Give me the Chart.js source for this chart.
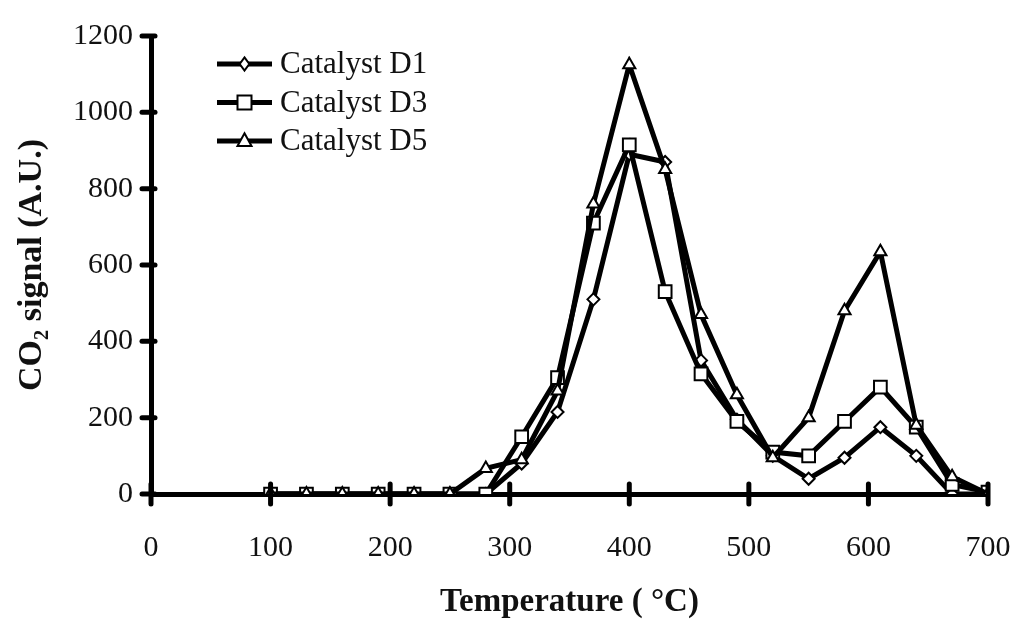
<!DOCTYPE html>
<html lang="en">
<head>
<meta charset="UTF-8">
<title>CO2 signal vs temperature</title>
<script src="https://cdn.jsdelivr.net/npm/chart.js@4.4.1/dist/chart.umd.min.js"></script>
<style>
  body{margin:0;background:#fff;}
  #wrap{width:1011px;height:626px;position:relative;}
</style>
</head>
<body>
<div id="wrap"><canvas id="myChart"></canvas></div>
<script>
// temperatures (deg C) and CO2 signal
var temps = [100,130,160,190,220,250,280,310,340,370,400,430,460,490,520,550,580,610,640,670,700];
var d1 = [0,0,0,0,0,0,0,80,215,510,890,870,350,195,100,40,95,175,100,0,0];
var d3 = [0,0,0,0,0,0,0,150,305,710,915,530,315,190,110,100,190,280,175,25,5];
var d5 = [0,0,0,0,0,0,67,90,270,760,1125,850,470,260,95,200,480,635,180,45,0];
var seriesNames = ["Catalyst D1","Catalyst D3","Catalyst D5"];
var xTicks = [0,100,200,300,400,500,600,700];
var yTicks = [0,200,400,600,800,1000,1200];

var serif = "'Liberation Serif','Times New Roman',serif";

function pts(arr){
    return temps.map(function(t,i){ return {x:t,y:arr[i]}; });
}

function marker(ctx, style, x, y, r){
    ctx.beginPath();
    if(style=="rect"){
        ctx.rect(x-r, y-r, 2*r, 2*r);
    } else if(style=="rectRot"){
        ctx.moveTo(x, y-r*1.1); ctx.lineTo(x+r*0.8, y); ctx.lineTo(x, y+r*1.1); ctx.lineTo(x-r*0.8, y); ctx.closePath();
    } else {
        ctx.moveTo(x, y-r*1.1); ctx.lineTo(x+r, y+r*0.7); ctx.lineTo(x-r, y+r*0.7); ctx.closePath();
    }
    ctx.fillStyle="#fff"; ctx.fill();
    ctx.lineWidth=2; ctx.strokeStyle="#000"; ctx.stroke();
}

// ticks that cross the axis lines
var crossTicks = {
    id:'crossTicks',
    afterDatasetsDraw(chart){
        var ctx=chart.ctx, xs=chart.scales.x, ys=chart.scales.y, a=chart.chartArea;
        ctx.save();
        ctx.strokeStyle="#000"; ctx.lineWidth=5; ctx.lineCap="round";
        xTicks.forEach(function(v){
            var px=xs.getPixelForValue(v);
            ctx.beginPath(); ctx.moveTo(px,a.bottom-10); ctx.lineTo(px,a.bottom+10); ctx.stroke();
        });
        yTicks.forEach(function(v){
            var py=ys.getPixelForValue(v);
            ctx.beginPath(); ctx.moveTo(a.left-9,py); ctx.lineTo(a.left+4,py); ctx.stroke();
        });
        ctx.restore();
    }
};

// legend: line with marker in the middle, inside the plot
var lineLegend = {
    id:'lineLegend',
    afterDraw(chart){
        var ctx=chart.ctx, a=chart.chartArea;
        var styles=["rectRot","rect","triangle"];
        var sizes=[6,7,7];
        ctx.save();
        for(var i=0;i<seriesNames.length;i++){
            var y=a.top+28+i*38.5;
            var x0=a.left+66, x1=a.left+121;
            ctx.strokeStyle="#000"; ctx.lineWidth=5;
            ctx.beginPath(); ctx.moveTo(x0,y); ctx.lineTo(x1,y); ctx.stroke();
            marker(ctx, styles[i], (x0+x1)/2, y, sizes[i]);
            ctx.fillStyle="#111"; ctx.font="31px "+serif; ctx.textBaseline="middle"; ctx.textAlign="left";
            ctx.fillText(seriesNames[i], x1+8, y+1);
        }
        ctx.restore();
    }
};

var common = {
    borderColor:"#000", borderWidth:5, backgroundColor:"#fff",
    pointBorderColor:"#000", pointBorderWidth:2, pointBackgroundColor:"#fff",
    tension:0, fill:false
};

new Chart("myChart", {
    type:"line",
    data:{
        datasets:[
            Object.assign({label:seriesNames[2], data:pts(d5), pointStyle:"triangle", pointRadius:7}, common),
            Object.assign({label:seriesNames[1], data:pts(d3), pointStyle:"rect", pointRadius:9}, common),
            Object.assign({label:seriesNames[0], data:pts(d1), pointStyle:"rectRot", pointRadius:6}, common)
        ]
    },
    options:{
        responsive:true,
        maintainAspectRatio:false,
        animation:false,
        layout:{padding:{top:30,right:23,left:8,bottom:0}},
        plugins:{
            legend:{display:false},
            tooltip:{enabled:false}
        },
        scales:{
            x:{
                type:"linear", min:0, max:700,
                afterFit:function(s){ s.height=132; s.paddingLeft=0; s.paddingRight=0; },
                ticks:{stepSize:100, color:"#111", font:{family:serif, size:30}, padding:36, maxRotation:0,
                    callback:function(v){ return String(v); }},
                grid:{display:true, drawOnChartArea:false, drawTicks:false, color:"rgba(0,0,0,0)"},
                border:{display:true, color:"#000", width:5},
                title:{display:true, text:"Temperature ( \u00B0C)", color:"#111", font:{family:serif, size:33, weight:"bold"}, padding:{top:14}}
            },
            y:{
                min:0, max:1200,
                afterFit:function(s){ s.width=143; },
                ticks:{stepSize:200, color:"#111", font:{family:serif, size:30}, padding:18,
                    callback:function(v){ return String(v); }},
                grid:{display:true, drawOnChartArea:false, drawTicks:false, color:"rgba(0,0,0,0)"},
                border:{display:true, color:"#000", width:5},
                title:{display:true, text:"CO\u2082 signal (A.U.)", color:"#111", font:{family:serif, size:34, weight:"bold"}, padding:{bottom:2}}
            }
        }
    },
    plugins:[crossTicks, lineLegend]
});
</script>
</body>
</html>
